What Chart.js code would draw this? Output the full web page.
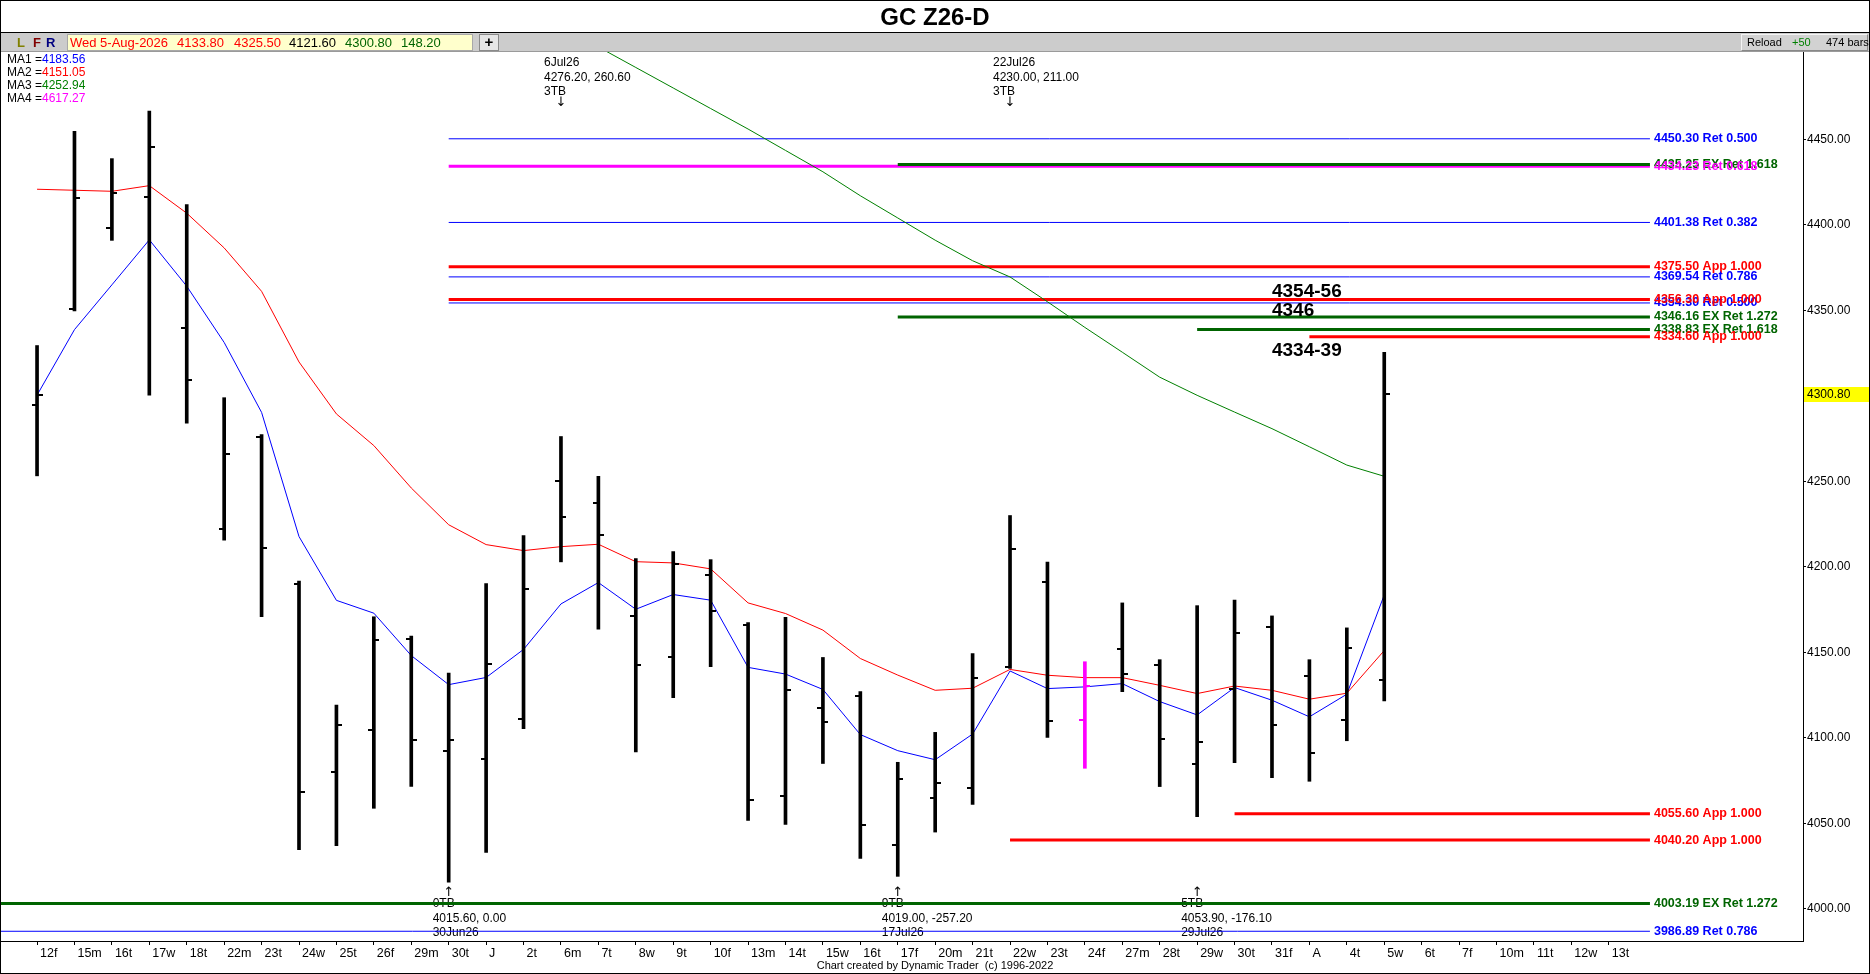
<!DOCTYPE html>
<html><head><meta charset="utf-8">
<script src="https://cdn.jsdelivr.net/npm/chart.js@4.4.1/dist/chart.umd.min.js"></script>
<style>
html,body{margin:0;padding:0;background:#fff;overflow:hidden;}
#wrap{position:relative;width:1870px;height:974px;font-family:"Liberation Sans",Arial,sans-serif;color:#000;}
#c{position:absolute;left:0;top:0;}
.abs{position:absolute;white-space:pre;}
#title{left:0;top:4px;width:1870px;text-align:center;font-weight:bold;font-size:24px;line-height:26px;}
#toolbar{left:1px;top:32px;width:1868px;height:18px;background:#cccccc;border-top:1px solid #000;border-bottom:1px solid #9a9a9a;}
.tb{font-size:13px;line-height:15px;top:35px;}
#ybox{left:67px;top:34px;width:404px;height:15px;background:#ffffcc;border:1px solid #a8a8a8;}
#plus{left:479px;top:34px;width:18px;height:15px;background:#e6e6e6;border:1px solid #8a8a8a;text-align:center;font-weight:bold;font-size:15px;line-height:14px;}
#rbox{left:1741px;top:34px;width:125px;height:15px;background:#d2d2d2;border:1px solid #f4f4f4;border-right-color:#888;border-bottom-color:#888;}
.rb{font-size:11px;line-height:15px;top:35px;}
.ma{font-size:12px;line-height:13px;left:7px;}
#credit{left:0;top:959px;width:1870px;text-align:center;font-size:11px;line-height:13px;}
</style></head>
<body>
<div id="wrap">
<canvas id="c" width="1870" height="974"></canvas>
<div id="title" class="abs">GC Z26-D</div>
<div id="toolbar" class="abs"></div>
<div class="abs tb" style="left:17px;color:#808000;font-weight:bold">L</div>
<div class="abs tb" style="left:33px;color:#800000;font-weight:bold">F</div>
<div class="abs tb" style="left:46px;color:#000080;font-weight:bold">R</div>
<div id="ybox" class="abs"></div>
<div id="tbDate" class="abs tb" style="left:70px;color:#ff0000"></div>
<div id="tbO" class="abs tb" style="left:177px;color:#ff0000"></div>
<div id="tbH" class="abs tb" style="left:234px;color:#ff0000"></div>
<div id="tbL" class="abs tb" style="left:289px;color:#000"></div>
<div id="tbC" class="abs tb" style="left:345px;color:#006400"></div>
<div id="tbR" class="abs tb" style="left:401px;color:#006400"></div>
<div id="plus" class="abs">+</div>
<div id="rbox" class="abs"></div>
<div class="abs rb" style="left:1747px">Reload</div>
<div class="abs rb" style="left:1792px;color:#008000">+50</div>
<div class="abs rb" style="left:1826px">474 bars</div>
<div id="ma1t" class="abs ma" style="top:53px"></div>
<div id="ma2t" class="abs ma" style="top:66px"></div>
<div id="ma3t" class="abs ma" style="top:79px"></div>
<div id="ma4t" class="abs ma" style="top:92px"></div>
<div id="credit" class="abs">Chart created by Dynamic Trader  (c) 1996-2022</div>
</div>
<script>
// ---------- DATA ----------
const xLabels = ["12f","15m","16t","17w","18t","22m","23t","24w","25t","26f","29m","30t","J","2t","6m","7t","8w","9t","10f","13m","14t","15w","16t","17f","20m","21t","22w","23t","24f","27m","28t","29w","30t","31f","A","4t","5w","6t","7f","10m","11t","12w","13t"];
const lastDate = "Wed 5-Aug-2026";
const opens  = [4294.8,4350.9,4398.4,4416.3,4339.6,4221.9,4276.0,4190.0,4080.0,4104.8,4158.0,4092.5,4087.7,4111.0,4250.1,4237.3,4171.1,4147.2,4195.1,4166.0,4066.1,4117.4,4124.4,4037.5,4064.9,4070.7,4141.4,4190.9,4110.3,4151.7,4142.6,4084.7,4128.4,4164.7,4136.2,4110.5,4133.8];
const highs  = [4329.4,4454.6,4438.7,4466.5,4411.8,4298.9,4277.4,4191.7,4119.1,4170.8,4159.5,4137.9,4190.2,4218.2,4276.2,4252.9,4204.8,4208.9,4204.2,4167.4,4170.4,4147.0,4127.0,4085.7,4103.2,4149.2,4230.0,4202.8,4144.5,4178.9,4145.7,4177.3,4180.6,4171.3,4145.7,4164.3,4325.5];
const lows   = [4253.2,4349.7,4390.9,4300.4,4284.0,4215.6,4170.8,4034.6,4037.0,4058.8,4071.6,4015.6,4033.0,4105.4,4202.9,4163.6,4091.8,4123.5,4141.6,4051.7,4049.4,4085.0,4029.5,4019.0,4044.9,4061.0,4140.6,4100.2,4082.2,4127.0,4071.5,4053.9,4085.5,4076.7,4074.6,4098.3,4121.6];
const closes = [4300.7,4415.4,4418.4,4445.6,4309.4,4266.1,4211.1,4068.4,4107.5,4157.4,4098.8,4098.8,4143.1,4186.9,4229.1,4218.6,4142.5,4201.5,4174.1,4063.8,4128.0,4109.3,4049.2,4076.0,4073.8,4134.8,4210.7,4109.8,4130.1,4137.1,4099.3,4097.5,4161.2,4107.6,4091.3,4152.6,4300.8];
const ma1 = [4300.4,4338.7,4364.9,4391.2,4364.1,4331.2,4290.3,4217.7,4180.4,4172.9,4148.1,4131.1,4135.3,4151.7,4178.3,4190.8,4175.2,4183.8,4180.5,4141.2,4137.3,4128.3,4101.9,4092.5,4087.2,4102.2,4139.1,4128.8,4129.8,4131.7,4121.2,4113.4,4129.4,4122.0,4112.3,4125.5,4183.56];
const ma2 = [4420.8,4420.2,4419.6,4422.9,4406.8,4386.5,4361.1,4319.8,4289.4,4270.9,4246.1,4224.6,4213.0,4209.5,4211.8,4213.2,4203.0,4202.3,4198.8,4178.9,4172.7,4163.0,4146.4,4136.7,4127.8,4129.0,4140.0,4136.6,4135.2,4135.2,4130.7,4125.9,4130.3,4127.8,4122.6,4126.1,4151.05];
const ma3 = [null,null,null,null,null,null,null,null,null,null,null,null,null,null,null,4504,4492,4480,4468,4456,4443.5,4431,4417,4404,4391,4379,4369.5,4355,4340,4325.5,4310.9,4300.3,4290.5,4280.8,4270.2,4259.5,4252.94];
const ma4Last = 4617.27;
const markedBar = 28;
const yTicks = [4000,4050,4100,4150,4200,4250,4300,4350,4400,4450];

const levelValues = [4450.30,4435.25,4434.23,4401.38,4375.50,4369.54,4354.30,4356.30,4346.16,4338.83,4334.60,4055.60,4040.20,4003.19,3986.89];
const levelTags   = ["Ret 0.500","EX Ret 1.618","Ret 0.618","Ret 0.382","App 1.000","Ret 0.786","Ret 0.500","App 1.000","EX Ret 1.272","EX Ret 1.618","App 1.000","App 1.000","App 1.000","EX Ret 1.272","Ret 0.786"];
const levelKind   = ["R","E","M","R","A","R","R","A","E","E","A","A","A","E","R"];
const levelStart  = [11,23,11,11,11,11,11,11,23,31,34,32,26,null,null];

const swingIdx   = [14,26,11,23,31];
const swingDate  = ["6Jul26","22Jul26","30Jun26","17Jul26","29Jul26"];
const swingPrice = [4276.20,4230.00,4015.60,4019.00,4053.90];
const swingMove  = [260.60,211.00,0.00,-257.20,-176.10];
const swingCount = ["3TB","3TB","0TB","9TB","5TB"];
const swingSide  = ["top","top","bottom","bottom","bottom"];

const noteTexts  = ["4354-56","4346","4334-39"];
const notePrices = [4360.7,4349.6,4326.3];
const noteIdx    = 33;

// ---------- STYLE / LAYOUT ----------
const X_MIN = -0.99, X_MAX = 47.19, Y_MIN = 3981.2, Y_MAX = 4501.05, LEVEL_END = 43.1;
const LEVEL_STYLE = {R:{c:'#0000ff',w:1},E:{c:'#006400',w:3},M:{c:'#ff00ff',w:3},A:{c:'#ff0000',w:3}};
const FONT = '"Liberation Sans", Arial, sans-serif';
Chart.defaults.font.family = FONT;

// header texts
const n = closes.length;
document.getElementById('tbDate').textContent = lastDate;
document.getElementById('tbO').textContent = opens[n-1].toFixed(2);
document.getElementById('tbH').textContent = highs[n-1].toFixed(2);
document.getElementById('tbL').textContent = lows[n-1].toFixed(2);
document.getElementById('tbC').textContent = closes[n-1].toFixed(2);
document.getElementById('tbR').textContent = (closes[n-1]-closes[n-2]).toFixed(2);
const maTxt = (id, name, v, col) => { document.getElementById(id).innerHTML = name + ' =<span style="color:'+col+'">' + v.toFixed(2) + '</span>'; };
maTxt('ma1t','MA1',ma1[n-1],'#0000ff');
maTxt('ma2t','MA2',ma2[n-1],'#ff0000');
maTxt('ma3t','MA3',ma3[n-1],'#008000');
maTxt('ma4t','MA4',ma4Last,'#ff00ff');

// tick images for open (left) / close (right)
const tickCache = {};
function tickImg(color, side) {
  const key = color + side;
  if (tickCache[key]) return tickCache[key];
  const cv = document.createElement('canvas');
  cv.width = 11; cv.height = 2;
  const g = cv.getContext('2d');
  g.fillStyle = color;
  if (side === 'left') g.fillRect(0, 0, 6, 2); else g.fillRect(5, 0, 6, 2);
  tickCache[key] = cv;
  return cv;
}
const barColor = i => i === markedBar ? '#ff00ff' : '#000000';

const series = arr => arr.map((v, i) => ({x: i, y: v}));

const datasets = [];
levelValues.forEach((v, k) => {
  const st = LEVEL_STYLE[levelKind[k]];
  const s = levelStart[k] === null ? X_MIN : levelStart[k];
  datasets.push({type:'line', data:[{x:s,y:v},{x:LEVEL_END,y:v}], borderColor:st.c, borderWidth:st.w, pointRadius:0, order:10+(st.w===1?1:0), tension:0});
});
datasets.push({type:'line', data: series(ma3), borderColor:'#008000', borderWidth:1, pointRadius:0, tension:0, order:5, spanGaps:false});
datasets.push({type:'line', data: series(ma2), borderColor:'#ff0000', borderWidth:1, pointRadius:0, tension:0, order:5});
datasets.push({type:'line', data: series(ma1), borderColor:'#0000ff', borderWidth:1, pointRadius:0, tension:0, order:5});
datasets.push({type:'bar', data: highs.map((h, i) => ({x: i, y: [lows[i], h]})), backgroundColor: c => barColor(c.dataIndex), borderWidth:0, barThickness:3, order:2});
datasets.push({type:'line', data: series(opens), showLine:false, pointRadius:3, pointStyle: c => tickImg(barColor(c.dataIndex), 'left'), order:1});
datasets.push({type:'line', data: series(closes), showLine:false, pointRadius:3, pointStyle: c => tickImg(barColor(c.dataIndex), 'right'), order:1});

const ARROW_FONT = '13px "DejaVu Sans", sans-serif';
const annot = {
  id: 'annot',
  beforeDraw(chart) {
    const {ctx} = chart;
    ctx.save(); ctx.fillStyle = '#fff'; ctx.fillRect(0,0,chart.width,chart.height); ctx.restore();
  },
  beforeDatasetsDraw(chart) {
    const {ctx, chartArea: a, scales: {x}} = chart;
    ctx.save();
    ctx.fillStyle = '#000';
    ctx.textBaseline = 'middle';
    swingIdx.forEach((idx, k) => {
      const px = x.getPixelForValue(idx);
      const l1 = swingDate[k], l2 = swingPrice[k].toFixed(2) + ', ' + swingMove[k].toFixed(2), l3 = swingCount[k];
      ctx.font = '12px ' + FONT;
      ctx.textAlign = 'left';
      if (swingSide[k] === 'top') {
        ctx.fillText(l1, px - 17, a.top + 11);
        ctx.fillText(l2, px - 17, a.top + 26);
        ctx.fillText(l3, px - 17, a.top + 40);
        ctx.font = ARROW_FONT; ctx.textAlign = 'center'; ctx.fillText('\u2193', px, a.top + 51);
      } else {
        ctx.fillText(l3, px - 16, a.bottom - 37);
        ctx.fillText(l2, px - 16, a.bottom - 22);
        ctx.fillText(l1, px - 16, a.bottom - 8);
        ctx.font = ARROW_FONT; ctx.textAlign = 'center'; ctx.fillText('\u2191', px, a.bottom - 48);
      }
    });
    ctx.restore();
  },
  afterDraw(chart) {
    const {ctx, chartArea: a, scales: {x, y}} = chart;
    ctx.save();
    ctx.font = 'bold 12.5px ' + FONT;
    ctx.textBaseline = 'middle'; ctx.textAlign = 'left';
    const lx = x.getPixelForValue(LEVEL_END) + 4;
    levelValues.forEach((v, k) => {
      ctx.fillStyle = LEVEL_STYLE[levelKind[k]].c;
      ctx.fillText(v.toFixed(2) + ' ' + levelTags[k], lx, y.getPixelForValue(v));
    });
    ctx.font = 'bold 19px ' + FONT; ctx.fillStyle = '#000';
    noteTexts.forEach((t, k) => ctx.fillText(t, x.getPixelForValue(noteIdx), y.getPixelForValue(notePrices[k])));
    const py = y.getPixelForValue(closes[n-1]);
    ctx.fillStyle = '#ffff00';
    ctx.fillRect(a.right + 1, Math.round(py) - 7, chart.width - a.right - 2, 15);
    ctx.fillStyle = '#000'; ctx.font = '12px ' + FONT;
    ctx.fillText(closes[n-1].toFixed(2), a.right + 4, py + 0.5);
    ctx.strokeStyle = '#000'; ctx.lineWidth = 1;
    ctx.strokeRect(0.5, 0.5, chart.width - 1, chart.height - 1);
    ctx.restore();
  }
};

new Chart(document.getElementById('c'), {
  type: 'bar',
  data: { datasets },
  options: {
    responsive: false, animation: false, events: [],
    layout: { autoPadding: false, padding: { top: 52, left: 0, right: 0, bottom: 0 } },
    plugins: { legend: { display: false }, tooltip: { enabled: false }, title: { display: false } },
    scales: {
      x: {
        type: 'linear', min: X_MIN, max: X_MAX, offset: false, position: 'bottom',
        border: { display: true, color: '#000', width: 1 },
        grid: { display: true, drawOnChartArea: false, drawTicks: true, tickLength: 4, color: '#000', tickColor: '#000', offset: false },
        ticks: { autoSkip: false, maxRotation: 0, minRotation: 0, align: 'start', labelOffset: 3, padding: 1, color: '#000', font: { size: 12.5 },
          callback: v => (xLabels[v] !== undefined ? xLabels[v] : '') },
        afterBuildTicks: s => { s.ticks = xLabels.map((_, i) => ({ value: i })); },
        afterFit: s => { s.height = 33; }
      },
      y: {
        type: 'linear', position: 'right', min: Y_MIN, max: Y_MAX,
        border: { display: true, color: '#000', width: 1 },
        grid: { display: true, drawOnChartArea: false, drawTicks: true, tickLength: 3, color: '#000', tickColor: '#000' },
        ticks: { autoSkip: false, padding: 1, color: '#000', font: { size: 12 }, callback: v => Number(v).toFixed(2) },
        afterBuildTicks: s => { s.ticks = yTicks.map(v => ({ value: v })); },
        afterFit: s => { s.width = 67; }
      }
    }
  },
  plugins: [annot]
});
</script>
</body></html>
